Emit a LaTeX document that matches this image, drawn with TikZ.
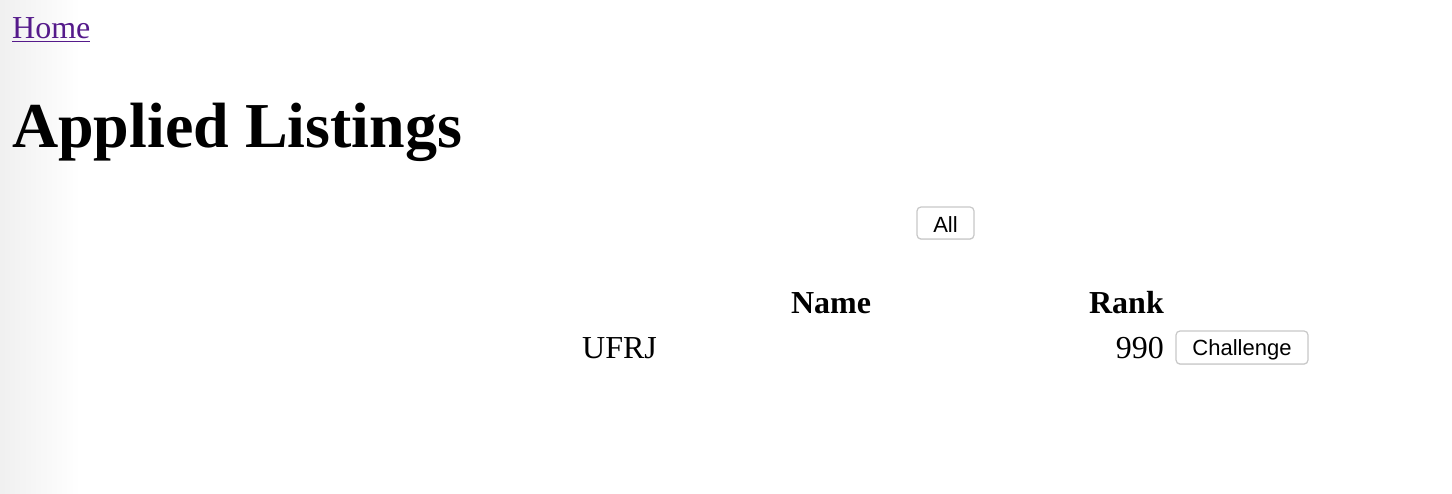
\documentclass[tikz,border=0pt]{standalone}
\usepackage{fontspec}
\usetikzlibrary{shadows}
\setmainfont{Liberation Serif}
\newfontfamily\btnfont{Liberation Sans}
\definecolor{linkpurple}{HTML}{551A8B}
\definecolor{btnborder}{HTML}{C8C8C8}
\begin{document}
\begin{tikzpicture}[x=1pt,y=-1pt,
  txt/.style={inner sep=0pt, font=\fontsize{32}{36}\selectfont},
  thead/.style={inner sep=0pt, font=\fontsize{32}{36}\selectfont\bfseries},
  btn/.style={draw=btnborder, line width=1.2pt, rounded corners=4pt, fill=white,
     inner sep=0pt,
     drop shadow={shadow xshift=0pt, shadow yshift=-1pt, opacity=0.15}},
  btnlabel/.style={inner sep=0pt, anchor=base, font=\btnfont\fontsize{22}{26}\selectfont}]
\useasboundingbox (0,0) rectangle (1452,494);
\shade[left color=black!6, right color=white] (0,0) rectangle (80,494);
% link
\node[txt, anchor=base west, text=linkpurple] (home) at (12,38.5) {Home};
\draw[linkpurple, line width=1.6pt] (home.base west) ++(0,3) -- ++(78,0);
% heading
\node[inner sep=0pt, anchor=base west, font=\fontsize{64}{70}\selectfont\bfseries] (title) at (12,148) {Applied Listings};
% All button
\node[btn, minimum width=57pt, minimum height=32pt] (all) at (945.5,223) {};
\node[btnlabel] (alltext) at (945.5,232.3) {All};
% table header
\node[thead, anchor=base] (name) at (831,313.5) {Name};
\node[thead, anchor=base east] (rank) at (1164,313.5) {Rank};
% row
\node[txt, anchor=base west] (ufrj) at (582,358.5) {UFRJ};
\node[txt, anchor=base east] (rankval) at (1164,358.5) {990};
\node[btn, minimum width=132pt, minimum height=33pt] (chal) at (1242,347.5) {};
\node[btnlabel] (chaltext) at (1242,355.7) {Challenge};
\end{tikzpicture}
\end{document}
